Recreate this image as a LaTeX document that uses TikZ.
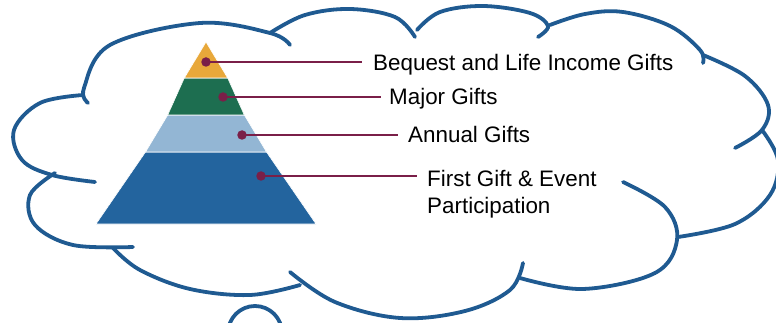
\documentclass[tikz,border=0pt]{standalone}
\usepackage{fontspec}
\setmainfont{Liberation Sans}
\definecolor{cloudblue}{HTML}{1F5A91}
\definecolor{pyrgold}{HTML}{E8A83A}
\definecolor{pyrgreen}{HTML}{1D6E50}
\definecolor{pyrlight}{HTML}{93B6D4}
\definecolor{pyrdark}{HTML}{23649E}
\definecolor{maroon}{HTML}{7A1F48}
\begin{document}
\begin{tikzpicture}[x=1pt,y=-1pt,
  cloudline/.style={draw=cloudblue,line width=3.8pt,line cap=round},
  band/.style={draw=white,line width=0.6pt,line join=miter},
  dotnode/.style={circle,fill=maroon,minimum size=9.5pt,inner sep=0pt},
  conn/.style={draw=maroon,line width=2pt},
  lab/.style={anchor=base west,inner sep=0pt,font=\fontsize{22.4}{26}\selectfont}]
\useasboundingbox (0,0) rectangle (776,323);
\clip (0,0) rectangle (776,323);
% cloud bumps
\draw[cloudline] plot[smooth,tension=0.6] coordinates {(88,103) (84,88) (110,45) (200,23) (270,33) (290,45)};
\draw[cloudline] plot[smooth,tension=0.6] coordinates {(270,33) (305,15) (350,9) (395,17) (415,37)};
\draw[cloudline] plot[smooth,tension=0.6] coordinates {(417,30) (440,12) (483,6) (530,13) (548,26) (538,37)};
\draw[cloudline] plot[smooth,tension=0.6] coordinates {(550,25) (585,14) (623,12) (670,26) (700,50) (703,63)};
\draw[cloudline] plot[smooth,tension=0.6] coordinates {(703,55) (745,76) (768,105) (762,130) (735,148)};
\draw[cloudline] plot[smooth,tension=0.6] coordinates {(762,130) (778,160) (770,195) (735,224) (678,237)};
\draw[cloudline] plot[smooth,tension=0.6] coordinates {(623,182) (665,207) (677,240) (655,273) (583,289) (520,278)};
\draw[cloudline] plot[smooth,tension=0.6] coordinates {(523,263) (510,290) (465,311) (400,318) (335,302) (290,272)};
\draw[cloudline] plot[smooth,tension=0.6] coordinates {(113,248) (140,270) (190,289) (250,295) (300,285)};
\draw[cloudline] plot[smooth,tension=0.6] coordinates {(55,173) (30,195) (35,225) (73,245) (133,247)};
\draw[cloudline] plot[smooth,tension=0.6] coordinates {(83,95) (40,103) (14,130) (22,160) (52,175) (95,182)};
\draw[cloudline] (255,333) circle[radius=27];
% pyramid
\fill[pyrdark,band] (96,224) -- (316,224) -- (266.5,152) -- (145.5,152) -- cycle;
\fill[pyrlight,band] (145.5,152) -- (266.5,152) -- (244.3,115) -- (167.7,115) -- cycle;
\fill[pyrgreen,band] (167.7,115) -- (244.3,115) -- (227.7,78) -- (184.3,78) -- cycle;
\fill[pyrgold,band] (184.3,78) -- (227.7,78) -- (206,42) -- cycle;
% dots, labels, connectors
\node[dotnode] (d1) at (206,62) {};
\node[dotnode] (d2) at (223,97) {};
\node[dotnode] (d3) at (242,135) {};
\node[dotnode] (d4) at (261,176) {};
\coordinate (e1) at (362,62);
\coordinate (e2) at (381,97);
\coordinate (e3) at (398,135);
\coordinate (e4) at (417,176);
\draw[conn] (d1.center) -- (e1);
\draw[conn] (d2.center) -- (e2);
\draw[conn] (d3.center) -- (e3);
\draw[conn] (d4.center) -- (e4);
\node[lab] (t1) at (373,71) {Bequest and Life Income Gifts};
\node[lab] (t2) at (389,105) {Major Gifts};
\node[lab] (t3) at (408,143) {Annual Gifts};
\node[lab] (t4) at (427,187) {First Gift \& Event};
\node[lab] (t4b) at (427,213) {Participation};
\end{tikzpicture}
\end{document}
